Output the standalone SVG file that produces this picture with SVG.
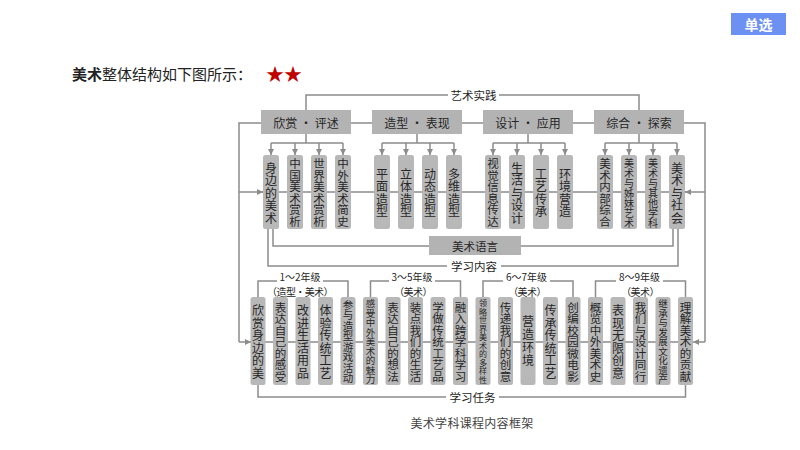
<svg xmlns="http://www.w3.org/2000/svg" width="800" height="450" viewBox="0 0 800 450">
<style>
text{font-family:"Noto Sans CJK SC","Noto Sans",sans-serif;fill:#262626}
.c{text-anchor:middle;dominant-baseline:central}
.ln{fill:none;stroke:#8c8c8c;stroke-width:1.5}
.bx{fill:#b8b8b8}
.tb{fill:#b3b3b3}
.h{font-size:12px}
.lab{font-size:11.5px}
.g{font-size:10px}
.g2{font-size:10px;letter-spacing:-0.6px}
.u4,.u5{font-size:12px}
.u6{font-size:11.5px}
.u7{font-size:10px}
.l4,.l6{font-size:12px}
.l7{font-size:11.5px}
.l8{font-size:10.5px}
.l9{font-size:9.5px}
.l10{font-size:8px}
</style>
<defs>
<marker id="ar" markerWidth="6" markerHeight="6" refX="6" refY="3" orient="auto" markerUnits="userSpaceOnUse">
<path d="M0,0 L6,3 L0,6 z" fill="#8c8c8c"/>
</marker>
</defs>
<rect width="800" height="450" fill="#ffffff"/>
<g id="header">
<rect x="731" y="13" width="55" height="22" fill="#6d91f3"/>
<text class="c" x="758.5" y="24" style="font-size:14px;fill:#ffffff;font-weight:bold">单选</text>
<text x="72" y="80" style="font-size:15px;fill:#222"><tspan font-weight="bold">美术</tspan>整体结构如下图所示：</text>
<text x="266" y="81" style="font-size:18px;fill:#c00000">★★</text>
</g>
<g id="connectors">
<path class="ln" d="M306,110 V95 H448 M499,95 H639 V110"/>
<path class="ln" d="M261,123 H239 V342 M684,123 H705 V342 M351,123 H372 M462,123 H483 M573,123 H594"/>
<path class="ln" d="M262,192 H686 M250,342 H693"/>
<path class="ln" d="M239,192 H263" marker-end="url(#ar)"/>
<path class="ln" d="M705,192 H685" marker-end="url(#ar)"/>
<path class="ln" d="M239,342 H251" marker-end="url(#ar)"/>
<path class="ln" d="M705,342 H693" marker-end="url(#ar)"/>
<path class="ln" d="M306,134 V143 M271,143 H343 M417,134 V143 M382,143 H454 M528,134 V143 M493,143 H565 M639,134 V143 M605,143 H677"/>
<path class="ln" marker-end="url(#ar)" d="M271,143 V155"/>
<path class="ln" marker-end="url(#ar)" d="M295,143 V155"/>
<path class="ln" marker-end="url(#ar)" d="M319,143 V155"/>
<path class="ln" marker-end="url(#ar)" d="M343,143 V155"/>
<path class="ln" marker-end="url(#ar)" d="M382,143 V155"/>
<path class="ln" marker-end="url(#ar)" d="M406,143 V155"/>
<path class="ln" marker-end="url(#ar)" d="M430,143 V155"/>
<path class="ln" marker-end="url(#ar)" d="M454,143 V155"/>
<path class="ln" marker-end="url(#ar)" d="M493,143 V155"/>
<path class="ln" marker-end="url(#ar)" d="M517,143 V155"/>
<path class="ln" marker-end="url(#ar)" d="M541,143 V155"/>
<path class="ln" marker-end="url(#ar)" d="M565,143 V155"/>
<path class="ln" marker-end="url(#ar)" d="M605,143 V155"/>
<path class="ln" marker-end="url(#ar)" d="M629,143 V155"/>
<path class="ln" marker-end="url(#ar)" d="M653,143 V155"/>
<path class="ln" marker-end="url(#ar)" d="M677,143 V155"/>
<path class="ln" d="M273,229 V246 H429 M521,246 H673 V229"/>
<path class="ln" d="M268,229 V266 H447 M501,266 H678 V229"/>
<path class="ln" d="M258,385 V397 H446 M499,397 H685.5 V385"/>
<path class="ln" d="M258,297 V281 H277 M323,281 H348 V297"/>
<path class="ln" d="M370.5,297 V281 H389 M435,281 H460.5 V297"/>
<path class="ln" d="M483,297 V281 H503 M550,281 H573 V297"/>
<path class="ln" d="M595.5,297 V281 H616 M663,281 H685.5 V297"/>
</g>
<g id="labels">
<text class="c lab" x="473.5" y="95">艺术实践</text>
<text class="c lab" x="474" y="266">学习内容</text>
<text class="c lab" x="472.5" y="397">学习任务</text>
<text class="c g" x="300" y="276">1～2年级</text>
<text class="c g2" x="300" y="291">（造型·美术）</text>
<text class="c g" x="412" y="276">3～5年级</text>
<text class="c g2" x="413" y="291">（美术）</text>
<text class="c g" x="526.5" y="276">6～7年级</text>
<text class="c g2" x="527" y="291">（美术）</text>
<text class="c g" x="639.5" y="276">8～9年级</text>
<text class="c g2" x="640" y="291">（美术）</text>
<text class="c" x="472" y="422" style="font-size:12px;fill:#444;letter-spacing:0.3px">美术学科课程内容框架</text>
</g>
<g id="n-yuyan"><rect class="tb" x="429" y="236" width="92" height="19"/><text class="c lab" x="475" y="245.5">美术语言</text></g>
<g id="n-xinshang"><rect class="tb" x="261" y="110" width="90" height="24"/><text class="c h" x="306" y="122">欣赏 · 评述</text></g>
<g id="n-zaoxing"><rect class="tb" x="372" y="110" width="90" height="24"/><text class="c h" x="417" y="122">造型 · 表现</text></g>
<g id="n-sheji"><rect class="tb" x="483" y="110" width="90" height="24"/><text class="c h" x="528" y="122">设计 · 应用</text></g>
<g id="n-zonghe"><rect class="tb" x="594" y="110" width="90" height="24"/><text class="c h" x="639" y="122">综合 · 探索</text></g>
<g id="u1"><rect class="bx" x="263" y="155" width="16" height="74" rx="2.5"/><text class="c u5" x="271 271 271 271 271" y="167 179.5 192 204.5 217">身边的美术</text></g>
<g id="u2"><rect class="bx" x="287" y="155" width="16" height="74" rx="2.5"/><text class="c u6" x="295 295 295 295 295 295" y="163.3 174.8 186.3 197.8 209.3 220.8">中国美术赏析</text></g>
<g id="u3"><rect class="bx" x="311" y="155" width="16" height="74" rx="2.5"/><text class="c u6" x="319 319 319 319 319 319" y="163.3 174.8 186.3 197.8 209.3 220.8">世界美术赏析</text></g>
<g id="u4"><rect class="bx" x="335" y="155" width="16" height="74" rx="2.5"/><text class="c u6" x="343 343 343 343 343 343" y="163.3 174.8 186.3 197.8 209.3 220.8">中外美术简史</text></g>
<g id="u5"><rect class="bx" x="374" y="155" width="16" height="74" rx="2.5"/><text class="c u4" x="382 382 382 382" y="173.3 185.8 198.3 210.8">平面造型</text></g>
<g id="u6"><rect class="bx" x="398" y="155" width="16" height="74" rx="2.5"/><text class="c u4" x="406 406 406 406" y="173.3 185.8 198.3 210.8">立体造型</text></g>
<g id="u7"><rect class="bx" x="422" y="155" width="16" height="74" rx="2.5"/><text class="c u4" x="430 430 430 430" y="173.3 185.8 198.3 210.8">动态造型</text></g>
<g id="u8"><rect class="bx" x="446" y="155" width="16" height="74" rx="2.5"/><text class="c u4" x="454 454 454 454" y="173.3 185.8 198.3 210.8">多维造型</text></g>
<g id="u9"><rect class="bx" x="485" y="155" width="16" height="74" rx="2.5"/><text class="c u6" x="493 493 493 493 493 493" y="163.3 174.8 186.3 197.8 209.3 220.8">视觉信息传达</text></g>
<g id="u10"><rect class="bx" x="509" y="155" width="16" height="74" rx="2.5"/><text class="c u5" x="517 517 517 517 517" y="167 179.5 192 204.5 217">生活与设计</text></g>
<g id="u11"><rect class="bx" x="533" y="155" width="16" height="74" rx="2.5"/><text class="c u4" x="541 541 541 541" y="173.3 185.8 198.3 210.8">工艺传承</text></g>
<g id="u12"><rect class="bx" x="557" y="155" width="16" height="74" rx="2.5"/><text class="c u4" x="565 565 565 565" y="173.3 185.8 198.3 210.8">环境营造</text></g>
<g id="u13"><rect class="bx" x="597" y="155" width="16" height="74" rx="2.5"/><text class="c u6" x="605 605 605 605 605 605" y="163.3 174.8 186.3 197.8 209.3 220.8">美术内部综合</text></g>
<g id="u14"><rect class="bx" x="621" y="155" width="16" height="74" rx="2.5"/><text class="c u7" x="629 629 629 629 629 629 629" y="162 172 182 192 202 212 222">美术与姊妹艺术</text></g>
<g id="u15"><rect class="bx" x="645" y="155" width="16" height="74" rx="2.5"/><text class="c u7" x="653 653 653 653 653 653 653" y="162 172 182 192 202 212 222">美术与其他学科</text></g>
<g id="u16"><rect class="bx" x="669" y="155" width="16" height="74" rx="2.5"/><text class="c u5" x="677 677 677 677 677" y="167 179.5 192 204.5 217">美术与社会</text></g>
<g id="l1"><rect class="bx" x="250.5" y="297" width="15" height="88" rx="2.5"/><text class="c l6" x="258 258 258 258 258 258" y="309.8 322.3 334.8 347.3 359.8 372.3">欣赏身边的美</text></g>
<g id="l2"><rect class="bx" x="273" y="297" width="15" height="88" rx="2.5"/><text class="c l7" x="280.5 280.5 280.5 280.5 280.5 280.5 280.5" y="306.5 318 329.5 341 352.5 364 375.5">表达自己的感受</text></g>
<g id="l3"><rect class="bx" x="295.5" y="297" width="15" height="88" rx="2.5"/><text class="c l6" x="303 303 303 303 303 303" y="309.8 322.3 334.8 347.3 359.8 372.3">改进生活用品</text></g>
<g id="l4"><rect class="bx" x="318" y="297" width="15" height="88" rx="2.5"/><text class="c l6" x="325.5 325.5 325.5 325.5 325.5 325.5" y="309.8 322.3 334.8 347.3 359.8 372.3">体验传统工艺</text></g>
<g id="l5"><rect class="bx" x="340.5" y="297" width="15" height="88" rx="2.5"/><text class="c l8" x="348 348 348 348 348 348 348 348" y="304.3 314.8 325.3 335.8 346.3 356.8 367.3 377.8">参与造型游戏活动</text></g>
<g id="l6"><rect class="bx" x="363" y="297" width="15" height="88" rx="2.5"/><text class="c l9" x="370.5 370.5 370.5 370.5 370.5 370.5 370.5 370.5 370.5" y="303 312.5 322 331.5 341 350.5 360 369.5 379">感受中外美术的魅力</text></g>
<g id="l7"><rect class="bx" x="385.5" y="297" width="15" height="88" rx="2.5"/><text class="c l7" x="393 393 393 393 393 393 393" y="306.5 318 329.5 341 352.5 364 375.5">表达自己的想法</text></g>
<g id="l8"><rect class="bx" x="408" y="297" width="15" height="88" rx="2.5"/><text class="c l7" x="415.5 415.5 415.5 415.5 415.5 415.5 415.5" y="306.5 318 329.5 341 352.5 364 375.5">装点我们的生活</text></g>
<g id="l9"><rect class="bx" x="430.5" y="297" width="15" height="88" rx="2.5"/><text class="c l7" x="438 438 438 438 438 438 438" y="306.5 318 329.5 341 352.5 364 375.5">学做传统工艺品</text></g>
<g id="l10"><rect class="bx" x="453" y="297" width="15" height="88" rx="2.5"/><text class="c l7" x="460.5 460.5 460.5 460.5 460.5 460.5 460.5" y="306.5 318 329.5 341 352.5 364 375.5">融入跨学科学习</text></g>
<g id="l11"><rect class="bx" x="475.5" y="297" width="15" height="88" rx="2.5"/><text class="c l10" x="483 483 483 483 483 483 483 483 483 483" y="302.8 311.3 319.8 328.3 336.8 345.3 353.8 362.3 370.8 379.3">领略世界美术的多样性</text></g>
<g id="l12"><rect class="bx" x="498" y="297" width="15" height="88" rx="2.5"/><text class="c l7" x="505.5 505.5 505.5 505.5 505.5 505.5 505.5" y="306.5 318 329.5 341 352.5 364 375.5">传递我们的创意</text></g>
<g id="l13"><rect class="bx" x="520.5" y="297" width="15" height="88" rx="2.5"/><text class="c l4" x="528 528 528 528" y="320 333 346 359">营造环境</text></g>
<g id="l14"><rect class="bx" x="543" y="297" width="15" height="88" rx="2.5"/><text class="c l6" x="550.5 550.5 550.5 550.5 550.5 550.5" y="309.8 322.3 334.8 347.3 359.8 372.3">传承传统工艺</text></g>
<g id="l15"><rect class="bx" x="565.5" y="297" width="15" height="88" rx="2.5"/><text class="c l7" x="573 573 573 573 573 573 573" y="306.5 318 329.5 341 352.5 364 375.5">创编校园微电影</text></g>
<g id="l16"><rect class="bx" x="588" y="297" width="15" height="88" rx="2.5"/><text class="c l7" x="595.5 595.5 595.5 595.5 595.5 595.5 595.5" y="306.5 318 329.5 341 352.5 364 375.5">概览中外美术史</text></g>
<g id="l17"><rect class="bx" x="610.5" y="297" width="15" height="88" rx="2.5"/><text class="c l6" x="618 618 618 618 618 618" y="309.8 322.3 334.8 347.3 359.8 372.3">表现无限创意</text></g>
<g id="l18"><rect class="bx" x="633" y="297" width="15" height="88" rx="2.5"/><text class="c l7" x="640.5 640.5 640.5 640.5 640.5 640.5 640.5" y="306.5 318 329.5 341 352.5 364 375.5">我们与设计同行</text></g>
<g id="l19"><rect class="bx" x="655.5" y="297" width="15" height="88" rx="2.5"/><text class="c l9" x="663 663 663 663 663 663 663 663 663" y="303 312.5 322 331.5 341 350.5 360 369.5 379">继承与发展文化遗产</text></g>
<g id="l20"><rect class="bx" x="678" y="297" width="15" height="88" rx="2.5"/><text class="c l7" x="685.5 685.5 685.5 685.5 685.5 685.5 685.5" y="306.5 318 329.5 341 352.5 364 375.5">理解美术的贡献</text></g>
</svg>
